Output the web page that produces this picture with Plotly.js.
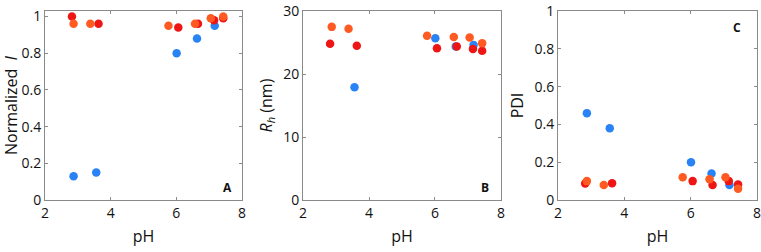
<!DOCTYPE html>
<html>
<head>
<meta charset="utf-8">
<script src="https://cdn.plot.ly/plotly-3.0.1.min.js"></script>
<style>html,body{margin:0;padding:0;background:#fff;}#chart{width:761px;height:252px;}</style>
</head>
<body>
<div id="chart"></div>
<script>
// pH values per series
const phBlue   = [2.87, 3.56, 6.01, 6.63, 7.17];
const phRed    = [2.82, 3.63, 6.06, 6.66, 7.15, 7.43];
const phOrange = [2.87, 3.38, 5.76, 6.57, 7.05, 7.43];

// Panel A: normalized intensity I
const intBlue   = [0.13, 0.15, 0.80, 0.88, 0.95];
const intRed    = [1.00, 0.96, 0.94, 0.96, 0.98, 0.99];
const intOrange = [0.96, 0.96, 0.95, 0.96, 0.99, 1.00];

// Panel B: hydrodynamic radius Rh (nm)
const rhBlue   = [null, 17.9, 25.7, 24.4, 24.6];
const rhRed    = [24.8, 24.5, 24.1, 24.4, 24.0, 23.7];
const rhOrange = [27.5, 27.2, 26.1, 25.9, 25.8, 24.9];

// Panel C: PDI
const pdiBlue   = [0.46, 0.38, 0.20, 0.14, 0.08];
const pdiRed    = [0.088, 0.089, 0.10, 0.079, 0.10, 0.082];
const pdiOrange = [0.10, 0.079, 0.12, 0.11, 0.12, 0.06];

const panelLabels = ['A', 'B', 'C'];
const xTicks = [2, 4, 6, 8];

const cBlue = '#2a83f5', cRed = '#ee1515', cOrange = '#ff5a22';
const msize = 8.5;

function tr(x, y, color, xa, ya) {
  return {x: x, y: y, type: 'scatter', mode: 'markers', xaxis: xa, yaxis: ya,
          marker: {color: color, size: msize}, showlegend: false, cliponaxis: false};
}

const data = [
  tr(phBlue, intBlue, cBlue, 'x', 'y'),
  tr(phRed, intRed, cRed, 'x', 'y'),
  tr(phOrange, intOrange, cOrange, 'x', 'y'),
  tr(phBlue, rhBlue, cBlue, 'x2', 'y2'),
  tr(phRed, rhRed, cRed, 'x2', 'y2'),
  tr(phOrange, rhOrange, cOrange, 'x2', 'y2'),
  tr(phBlue, pdiBlue, cBlue, 'x3', 'y3'),
  tr(phRed, pdiRed, cRed, 'x3', 'y3'),
  tr(phOrange, pdiOrange, cOrange, 'x3', 'y3')
];

const font = {family: 'Open Sans, Liberation Sans, sans-serif', size: 14, color: '#111'};
const axCommon = {
  showline: true, linecolor: '#8a8a8a', linewidth: 1, mirror: 'ticks',
  ticks: 'inside', ticklen: 3, tickcolor: '#8a8a8a', showgrid: false, zeroline: false,
  tickfont: {size: 14, color: '#111'}, ticklabeloverflow: 'allow'
};
function xax(dom, anchor) {
  return Object.assign({}, axCommon, {domain: dom, anchor: anchor, range: [1.999, 8.001],
    tickvals: xTicks, title: {text: 'pH', font: {size: 16}, standoff: 10}});
}
function yax(anchor, range, tv, ttl, standoff) {
  return Object.assign({}, axCommon, {domain: [1 - 200/252, 1 - 11/252], anchor: anchor, range: range,
    tickvals: tv, title: {text: ttl, font: {size: 16}, standoff: standoff}});
}

function lab(i, xa, ya, x, y) {
  return {text: '<b>' + panelLabels[i] + '</b>', xref: xa + ' domain', yref: ya + ' domain',
          x: x, y: y, xanchor: 'center', yanchor: 'middle', showarrow: false, font: {size: 12}};
}

const layout = {
  width: 761, height: 252,
  margin: {l: 0, r: 0, t: 0, b: 0},
  paper_bgcolor: '#fff', plot_bgcolor: '#fff',
  font: font,
  xaxis: xax([45/761, 242/761], 'y'),
  yaxis: yax('x', [0, 1.03], [0, 0.2, 0.4, 0.6, 0.8, 1], 'Normalized  <i>I</i>', 6),
  xaxis2: xax([303/761, 501/761], 'y2'),
  yaxis2: yax('x2', [0, 30.02], [0, 10, 20, 30], '<i>R<sub>h</sub></i> (nm)', 6),
  xaxis3: xax([558/761, 757/761], 'y3'),
  yaxis3: yax('x3', [0, 1.0008], [0, 0.2, 0.4, 0.6, 0.8, 1], 'PDI', 6),
  annotations: [
    lab(0, 'x', 'y', 0.924, 0.065),
    lab(1, 'x2', 'y2', 0.918, 0.065),
    lab(2, 'x3', 'y3', 0.9, 0.915)
  ]
};

Plotly.newPlot('chart', data, layout, {staticPlot: true});
</script>
</body>
</html>
